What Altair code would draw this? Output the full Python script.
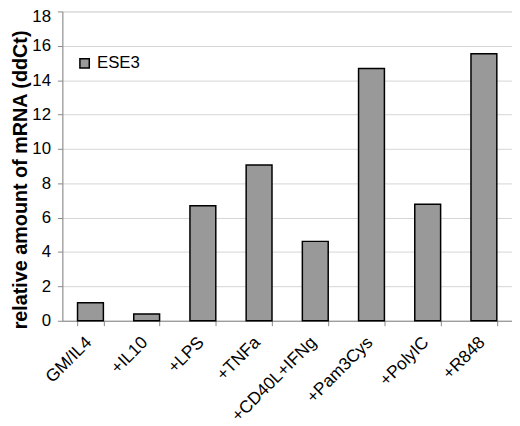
import altair as alt
import pandas as pd

categories = ["GM/IL4", "+IL10", "+LPS", "+TNFa", "+CD40L+IFNg", "+Pam3Cys", "+PolyIC", "+R848"]
values = [1.05, 0.40, 6.69, 9.06, 4.62, 14.68, 6.78, 15.54]
series = "ESE3"
y_ticks = [0, 2, 4, 6, 8, 10, 12, 14, 16, 18]

df = pd.DataFrame({"cat": categories, "val": values, "series": [series] * len(categories)})

FONT = "Liberation Sans"

chart = alt.Chart(df).mark_bar(stroke="black", strokeWidth=1.5).encode(
    x=alt.X("cat:N", sort=categories,
            scale=alt.Scale(paddingInner=0.54, paddingOuter=0.27),
            axis=alt.Axis(title=None, labelAngle=-45, labelAlign="right", labelBaseline="middle",
                          labelFontSize=17.5, labelFont=FONT, labelColor="black", labelPadding=14,
                          labelOffset=-2,
                          tickBand="extent", tickSize=5, tickColor="#888888", domainColor="#888888",
                          grid=False, labelBound=False, labelOverlap=False)),
    y=alt.Y("val:Q", scale=alt.Scale(domain=[0, 18], nice=False),
            axis=alt.Axis(title="relative amount of mRNA (ddCt)", values=y_ticks,
                          titleFont=FONT, titleFontSize=20, titleFontWeight="bold", titleColor="black",
                          titleAngle=270, titleAlign="center", titleBaseline="bottom",
                          titleX=-32, titleY=170,
                          labelFont=FONT, labelFontSize=17, labelColor="black", labelPadding=7,
                          labelOffset=alt.condition("datum.value == 18", alt.value(5), alt.value(0)),
                          tickSize=5, tickColor="#888888", domainColor="#888888",
                          gridColor="#d4d4d4")),
    color=alt.Color("series:N", scale=alt.Scale(domain=[series], range=["#999999"]),
                    legend=alt.Legend(title=None, orient="none", legendX=14, legendY=44,
                                      symbolType="square", symbolSize=90, symbolStrokeColor="black",
                                      symbolStrokeWidth=1.5, labelFont=FONT, labelFontSize=17,
                                      labelColor="black", padding=0)),
).properties(
    width=455, height=313,
    autosize=alt.AutoSizeParams(type="none"),
    padding={"left": 55, "top": 1, "right": 0, "bottom": 104},
).configure_view(stroke="#888888", strokeWidth=1).configure(background="white")

chart.save("out.html", embed_options={"renderer": "svg", "actions": False})
